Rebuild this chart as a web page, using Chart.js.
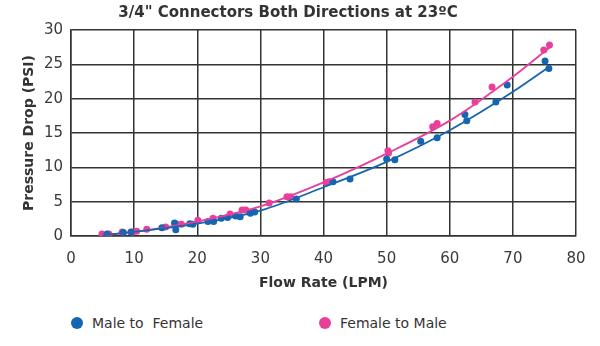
<!DOCTYPE html>
<html>
<head>
<meta charset="utf-8">
<script src="https://cdn.jsdelivr.net/npm/chart.js@4.4.1/dist/chart.umd.min.js"></script>
<style>
    html, body { margin: 0; padding: 0; background: #fff; }
    #wrap { position: relative; width: 600px; height: 346px; }
    #chart { position: absolute; left: 0; top: 0; }
    .legend { position: absolute; top: 315px; font: 14px "DejaVu Sans", Verdana, sans-serif; color: #333; white-space: pre; }
    .legend span.dot { display: inline-block; width: 12px; height: 12px; border-radius: 50%; vertical-align: -1px; margin-right: 9px; }
</style>
</head>
<body>
<div id="wrap">
    <canvas id="chart" width="600" height="300"></canvas>
    <div class="legend" style="left:71px"><span class="dot" style="background:#1565b0"></span>Male to  Female</div>
    <div class="legend" style="left:319px"><span class="dot" style="background:#e8409a"></span>Female to Male</div>
</div>
<script>
// measured points, [flow LPM, pressure PSI]
const maleToFemale = [
    [5.7, 0.3], [8.3, 0.5], [9.5, 0.6], [14.4, 1.2], [16.4, 1.9], [16.6, 0.9],
    [18.8, 1.8], [19.3, 1.7], [21.7, 2.1], [22.6, 2.1], [23.8, 2.6], [24.8, 2.7],
    [26.1, 2.9], [26.8, 2.8], [28.4, 3.3], [29.1, 3.5], [35.7, 5.4], [41.5, 7.9],
    [44.2, 8.3], [50.0, 11.2], [51.3, 11.1], [55.4, 13.8], [58.0, 14.3], [62.4, 17.7],
    [62.7, 16.8], [67.3, 19.5], [69.1, 22.0], [75.1, 25.5], [75.7, 24.4],
];
const femaleToMale = [
    [4.9, 0.3], [6.0, 0.3], [8.1, 0.6], [9.8, 0.6], [10.4, 0.7], [12.0, 1.0],
    [15.0, 1.3], [16.8, 1.7], [17.5, 1.7], [20.1, 2.3], [22.5, 2.6], [25.2, 3.2],
    [27.1, 3.8], [27.7, 3.8], [31.4, 4.8], [34.2, 5.7], [34.8, 5.7], [40.4, 7.8],
    [40.9, 7.9], [50.2, 12.4], [50.3, 12.1], [57.3, 15.9], [58.0, 16.4], [64.0, 19.5],
    [66.7, 21.7], [74.9, 27.1], [75.8, 27.8],
];
// trend lines
const maleTrend = [[5, 0.1], [10, 0.6], [20, 1.8], [30, 3.7], [40, 7.1], [50, 10.8], [60, 15.4], [70, 21.0], [76, 24.8]];
const femaleTrend = [[5, 0.1], [10, 0.6], [20, 2.1], [30, 4.3], [40, 7.8], [50, 12.0], [60, 16.8], [70, 23.2], [76, 27.6]];

const xTicks = [0, 10, 20, 30, 40, 50, 60, 70, 80];
const yTicks = [0, 5, 10, 15, 20, 25, 30];

const BLUE = '#1565b0';
const PINK = '#e8409a';
const FONT = '"DejaVu Sans", Verdana, sans-serif';

const toXY = arr => arr.map(p => ({ x: p[0], y: p[1] }));

function pointSet(data, color) {
    return {
        type: 'scatter',
        data: toXY(data),
        backgroundColor: color,
        borderColor: color,
        pointRadius: 3.5,
        pointBorderWidth: 0,
        showLine: false,
    };
}

function trendSet(data, color) {
    return {
        type: 'line',
        data: toXY(data),
        borderColor: color,
        borderWidth: 1.8,
        pointRadius: 0,
        tension: 0.4,
        cubicInterpolationMode: 'monotone',
        fill: false,
    };
}

new Chart(document.getElementById('chart'), {
    data: {
        datasets: [
            trendSet(maleTrend, BLUE),
            trendSet(femaleTrend, PINK),
            pointSet(maleToFemale, BLUE),
            pointSet(femaleToMale, PINK),
        ],
    },
    options: {
        responsive: false,
        animation: false,
        layout: { padding: { left: 0, right: 24, top: 0, bottom: 0 } },
        plugins: {
            legend: { display: false },
            tooltip: { enabled: false },
            title: {
                display: true,
                text: '3/4" Connectors Both Directions at 23ºC',
                color: '#333',
                font: { family: FONT, size: 15, weight: 'bold' },
                padding: { top: 4, bottom: 8 },
            },
        },
        scales: {
            x: {
                type: 'linear',
                min: 0,
                max: 80,
                afterBuildTicks: s => { s.ticks = xTicks.map(v => ({ value: v })); },
                afterFit: s => { s.height = 64; },
                grid: { color: '#333', lineWidth: 1.5, drawTicks: false },
                border: { color: '#333', width: 1.5 },
                ticks: { color: '#3a3a3a', font: { family: FONT, size: 15 }, padding: 14, maxRotation: 0 },
                title: {
                    display: true,
                    text: 'Flow Rate (LPM)',
                    color: '#333',
                    font: { family: FONT, size: 14, weight: 'bold' },
                    padding: { top: 4, bottom: 8 },
                },
            },
            y: {
                type: 'linear',
                min: 0,
                max: 30,
                afterBuildTicks: s => { s.ticks = yTicks.map(v => ({ value: v })); },
                afterFit: s => { s.width = 71; },
                grid: { color: '#333', lineWidth: 1.5, drawTicks: false },
                border: { color: '#333', width: 1.5 },
                ticks: { color: '#3a3a3a', font: { family: FONT, size: 15 }, padding: 8 },
                title: {
                    display: true,
                    text: 'Pressure Drop (PSI)',
                    color: '#333',
                    font: { family: FONT, size: 14, weight: 'bold' },
                    padding: { top: 21, bottom: 4 },
                },
            },
        },
    },
});
</script>
</body>
</html>
